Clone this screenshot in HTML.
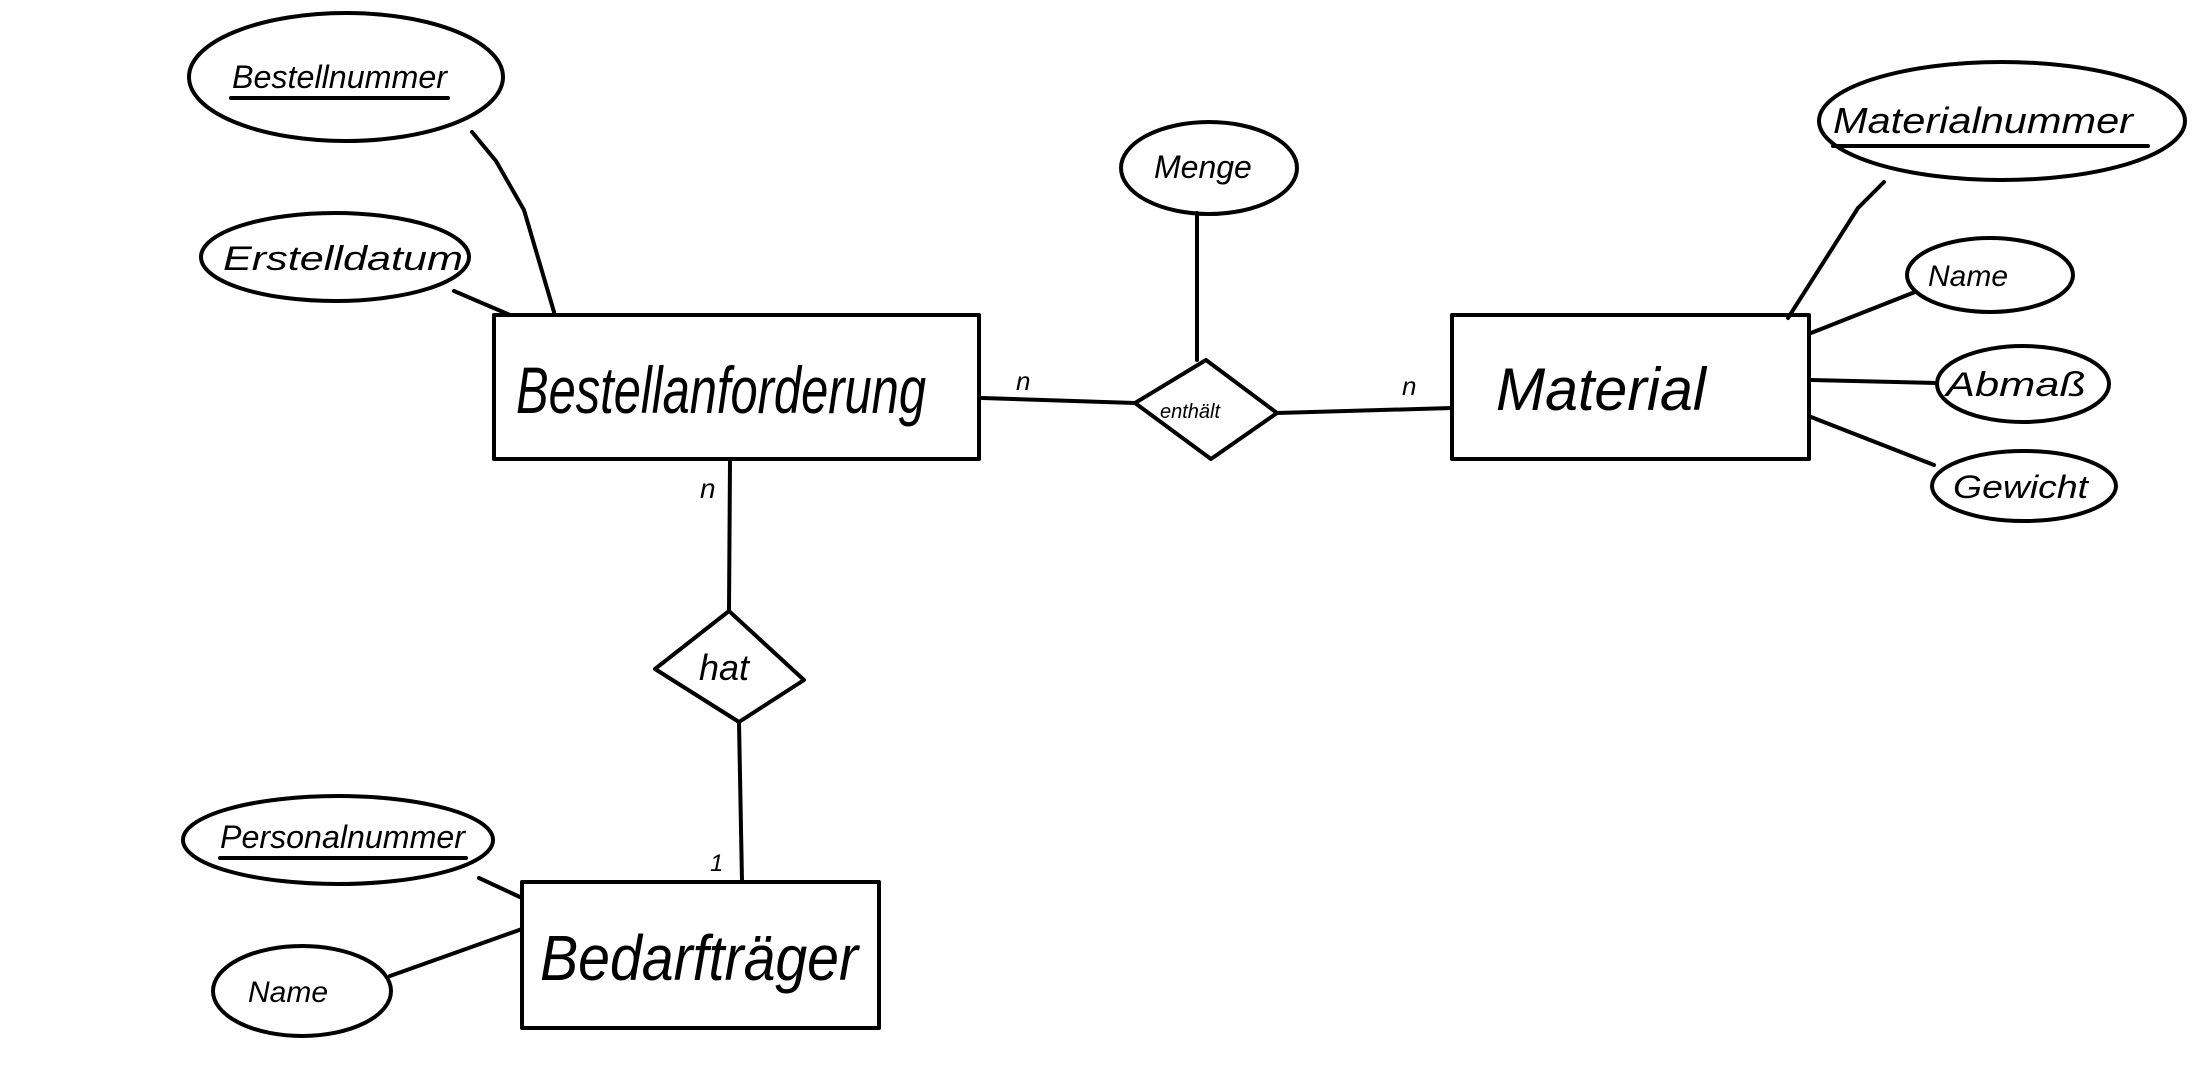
<!DOCTYPE html>
<html><head><meta charset="utf-8"><style>
html,body{margin:0;padding:0;background:#fff;}
svg{display:block}
text{font-family:"Liberation Sans",sans-serif;fill:#000;font-style:italic;}
</style></head><body>
<svg width="2196" height="1076" viewBox="0 0 2196 1076" xmlns="http://www.w3.org/2000/svg">
<g fill="none" stroke="#000" stroke-width="4" stroke-linecap="round" stroke-linejoin="round">
<rect x="494" y="315" width="485" height="144"/>
<rect x="1452" y="315" width="357" height="144"/>
<rect x="522" y="882" width="357" height="146"/>
<polygon points="1135,403 1206,360 1277,413 1211,459"/>
<polygon points="655,669 729,611 804,680 739,722"/>
<ellipse cx="346" cy="77" rx="157" ry="64"/>
<ellipse cx="335" cy="257" rx="134" ry="44"/>
<ellipse cx="1209" cy="168" rx="88" ry="46"/>
<ellipse cx="2002" cy="121" rx="183" ry="59"/>
<ellipse cx="1990" cy="275" rx="83" ry="37"/>
<ellipse cx="2023" cy="384" rx="86" ry="38"/>
<ellipse cx="2024" cy="486" rx="92" ry="35"/>
<ellipse cx="338" cy="840" rx="155" ry="44"/>
<ellipse cx="302" cy="991" rx="89" ry="45"/>
<polyline points="472,132 496,161 524,210 554,312"/>
<polyline points="454,291 510,315"/>
<polyline points="982,398 1135,403"/>
<polyline points="1277,413 1452,408"/>
<polyline points="1197,213 1197,360"/>
<polyline points="1884,182 1858,208 1788,318"/>
<polyline points="1811,333 1915,292"/>
<polyline points="1811,380 1937,383"/>
<polyline points="1811,417 1934,465"/>
<polyline points="730,461 729,611"/>
<polyline points="739,722 742,882"/>
<polyline points="479,878 522,898"/>
<polyline points="390,976 522,929"/>
<line x1="231" y1="98" x2="448" y2="98"/>
<line x1="1833" y1="146" x2="2148" y2="146"/>
<line x1="220" y1="858" x2="466" y2="858"/>
</g>
<text x="516" y="413" font-size="66" textLength="410" lengthAdjust="spacingAndGlyphs">Bestellanforderung</text>
<text x="1496" y="410" font-size="60" textLength="210" lengthAdjust="spacingAndGlyphs">Material</text>
<text x="540" y="980" font-size="64" textLength="318" lengthAdjust="spacingAndGlyphs">Bedarfträger</text>
<text x="1160" y="418" font-size="20">enthält</text>
<text x="699" y="680" font-size="36">hat</text>
<text x="232" y="88" font-size="32" textLength="215" lengthAdjust="spacingAndGlyphs">Bestellnummer</text>
<text x="223" y="270" font-size="34" textLength="240" lengthAdjust="spacingAndGlyphs">Erstelldatum</text>
<text x="1154" y="178" font-size="32">Menge</text>
<text x="1833" y="133" font-size="36" textLength="300" lengthAdjust="spacingAndGlyphs">Materialnummer</text>
<text x="1928" y="286" font-size="30">Name</text>
<text x="1946" y="396" font-size="34" textLength="140" lengthAdjust="spacingAndGlyphs">Abmaß</text>
<text x="1953" y="498" font-size="32" textLength="135" lengthAdjust="spacingAndGlyphs">Gewicht</text>
<text x="220" y="848" font-size="32" textLength="245" lengthAdjust="spacingAndGlyphs">Personalnummer</text>
<text x="248" y="1002" font-size="30">Name</text>
<text x="1016" y="390" font-size="26">n</text>
<text x="1402" y="395" font-size="26">n</text>
<text x="700" y="498" font-size="28">n</text>
<text x="710" y="871" font-size="24">1</text>
</svg>
</body></html>
